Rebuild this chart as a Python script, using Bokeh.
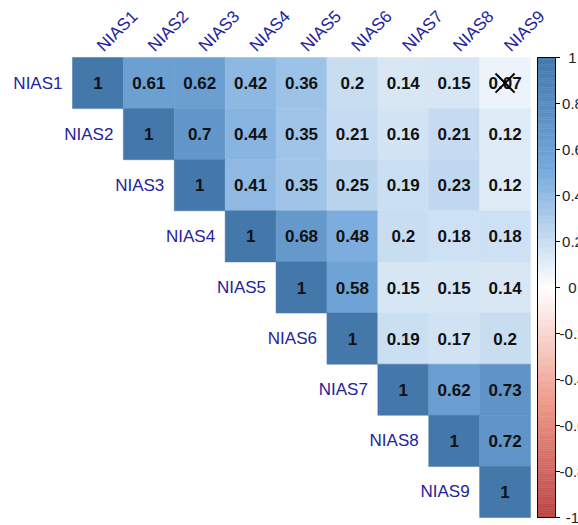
import numpy as np
from bokeh.plotting import figure
from bokeh.models import Range1d, ColumnDataSource
from bokeh.core.properties import value
from bokeh.embed import file_html
from bokeh.resources import INLINE

# ---------------- data ----------------
labels = ["NIAS1", "NIAS2", "NIAS3", "NIAS4", "NIAS5", "NIAS6", "NIAS7", "NIAS8", "NIAS9"]
row_NIAS1 = [1, 0.61, 0.62, 0.42, 0.36, 0.2, 0.14, 0.15, 0.07]
row_NIAS2 = [1, 0.7, 0.44, 0.35, 0.21, 0.16, 0.21, 0.12]
row_NIAS3 = [1, 0.41, 0.35, 0.25, 0.19, 0.23, 0.12]
row_NIAS4 = [1, 0.68, 0.48, 0.2, 0.18, 0.18]
row_NIAS5 = [1, 0.58, 0.15, 0.15, 0.14]
row_NIAS6 = [1, 0.19, 0.17, 0.2]
row_NIAS7 = [1, 0.62, 0.73]
row_NIAS8 = [1, 0.72]
row_NIAS9 = [1]
rows = [row_NIAS1, row_NIAS2, row_NIAS3, row_NIAS4, row_NIAS5,
        row_NIAS6, row_NIAS7, row_NIAS8, row_NIAS9]
insignificant = [("NIAS1", "NIAS9")]
cbar_ticks = [1, 0.8, 0.6, 0.4, 0.2, 0, -0.2, -0.4, -0.6, -0.8, -1]
cbar_labels = ["1", "0.8", "0.6", "0.4", "0.2", "0", "-0.2", "-0.4", "-0.6", "-0.8", "-1"]
palette_anchors = ["#BB4444", "#EE9988", "#FFFFFF", "#77AADD", "#4477AA"]

# ---------------- colour mapping ----------------
def hex2rgb(h):
    h = h.lstrip("#")
    return [int(h[i:i + 2], 16) for i in (0, 2, 4)]

anchor_rgb = np.array([hex2rgb(c) for c in palette_anchors], dtype=float)
anchor_pos = np.linspace(-1, 1, len(palette_anchors))

def corr_color(v):
    rgb = [np.interp(v, anchor_pos, anchor_rgb[:, k]) for k in range(3)]
    return "#%02x%02x%02x" % tuple(int(round(c)) for c in rgb)

# ---------------- layout (pixels) ----------------
W, H = 578, 525
n = len(labels)
grid_left, grid_top = 72, 57          # figure-relative pixels
grid_w, grid_h = 458, 460
cw, ch = grid_w / n, grid_h / n

x_start = -grid_left / cw
x_end = (W - grid_left) / cw
y_top = -grid_top / ch
y_bottom = (H - grid_top) / ch

p = figure(width=W, height=H, output_backend="svg", toolbar_location=None,
           x_range=Range1d(x_start, x_end), y_range=Range1d(y_bottom, y_top),
           x_axis_type=None, y_axis_type=None, min_border=0)
p.outline_line_color = None
p.grid.visible = False
p.background_fill_color = "white"
p.border_fill_color = "white"

# ---------------- cells ----------------
cx, cy, cval, ccol, ctxt = [], [], [], [], []
for i, r in enumerate(rows):
    for k, v in enumerate(r):
        j = i + k
        cx.append(j + 0.5)
        cy.append(i + 0.5)
        cval.append(v)
        ccol.append(corr_color(v))
        ctxt.append(("%g" % v))
src = ColumnDataSource(dict(x=cx, y=cy, v=cval, c=ccol, t=ctxt))
p.rect(x="x", y="y", width=1, height=1, fill_color="c", line_color="c",
       line_width=0.5, source=src)
p.text(x="x", y="y", text="t", source=src, text_align="center",
       text_baseline="middle", text_font=value("Liberation Sans"),
       text_font_size="17px", text_font_style="bold", text_color="#111111")

# insignificant cross
xs_x = [labels.index(b) + 0.5 for a, b in insignificant]
xs_y = [labels.index(a) + 0.5 for a, b in insignificant]
p.scatter(x=xs_x, y=xs_y, marker="x", size=27, line_color="black", line_width=2)

# ---------------- labels ----------------
lab_col = "#23239e"
# column labels (top, rotated)
p.text(x=[j + 0.5 + 2 / cw for j in range(n)], y=[-9 / ch] * n, text=labels,
       angle=np.pi / 4, text_align="left", text_baseline="middle",
       text_font=value("Liberation Sans"), text_font_size="17px",
       text_color=lab_col)
# row labels (left of diagonal)
p.text(x=[i - 10 / cw for i in range(n)], y=[i + 0.5 for i in range(n)],
       text=labels, text_align="right", text_baseline="middle",
       text_font=value("Liberation Sans"), text_font_size="17px",
       text_color=lab_col)

# ---------------- colour bar ----------------
bar_l = (537 - grid_left) / cw
bar_r = (555 - grid_left) / cw
nstep = 200
edges = np.linspace(-1, 1, nstep + 1)
mids = (edges[:-1] + edges[1:]) / 2

def val2y(v):
    return (1 - np.asarray(v, dtype=float)) / 2 * n

p.quad(left=bar_l, right=bar_r, top=val2y(edges[1:]), bottom=val2y(edges[:-1]),
       fill_color=[corr_color(v) for v in mids],
       line_color=[corr_color(v) for v in mids], line_width=0.5)
p.quad(left=[bar_l], right=[bar_r], top=[val2y(1)], bottom=[val2y(-1)],
       fill_color=None, line_color="black", line_width=1)
tick_y = list(val2y(cbar_ticks))
p.segment(x0=[bar_r] * len(tick_y), x1=[bar_r + 4.5 / cw] * len(tick_y),
          y0=tick_y, y1=tick_y, line_color="black", line_width=1)
p.text(x=[(572 - grid_left) / cw] * len(tick_y), y=tick_y, text=cbar_labels,
       text_align="center", text_baseline="middle",
       text_font=value("Liberation Sans"), text_font_size="15px",
       text_color="#222222")

open("out.html", "w").write(file_html(p, INLINE))
